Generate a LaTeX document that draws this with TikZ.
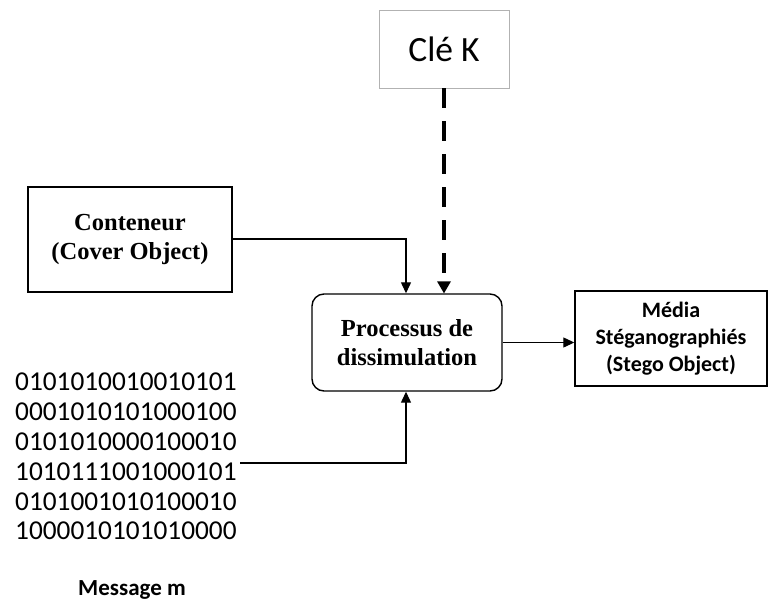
\documentclass[tikz,border=0pt]{standalone}
\usepackage{fontspec}
\setmainfont{Carlito}
\newfontfamily\timesfam{Liberation Serif}
\usetikzlibrary{arrows.meta}
\begin{document}
\begin{tikzpicture}[x=1pt,y=-1pt,
  box/.style={draw, line width=1.4pt, inner sep=0pt, align=center},
  keybox/.style={draw=black!30, line width=0.8pt, inner sep=0pt, align=center},
  link/.style={line width=1.2pt, -{Triangle[length=11pt,width=10pt]}},
  keylink/.style={line width=4pt, dash pattern=on 20pt off 13pt, -{Triangle[length=12pt,width=14pt,line width=0pt]}},
  serifbold/.style={font=\timesfam\bfseries\fontsize{24.5}{29}\selectfont},
  sansbold/.style={font=\bfseries\fontsize{22}{27}\selectfont}]
\useasboundingbox (0,0) rectangle (769,606);

% boxes
\node[keybox, minimum width=130pt, minimum height=78pt, font=\fontsize{35.5}{40}\selectfont]
  (key) at (444,49) {Clé K};
\node[box, serifbold, minimum width=204pt, minimum height=105pt]
  (cover) at (130,239.5) {Conteneur\\(Cover Object)};
\node[box, serifbold, rounded corners=12pt, minimum width=190pt, minimum height=97pt]
  (proc) at (407,342.5) {Processus de\\dissimulation};
\node[box, sansbold, minimum width=192pt, minimum height=95pt]
  (stego) at (671,338.5) {Média\\Stéganographiés\\(Stego Object)};

% secret message bits
\node[anchor=north west, align=left, inner sep=0pt,
  font=\fontsize{27.3}{29.8}\selectfont] (bits) at (15,373)
  {0101010010010101\\0001010101000100\\0101010000100010\\1010111001000101\\0101001010100010\\1000010101010000};
\node[font=\bfseries\fontsize{23}{27}\selectfont] (msg) at (132,590) {Message m};
\coordinate (bitsout) at (240,463);

% connectors
\draw[link] (cover.east |- 0,239) -| (proc.north -| 406,0);
\draw[keylink] (key.south -| 444,0) -- (proc.north -| 444,0);
\draw[link] (bitsout) -| (proc.south -| 406,0);
\draw[link] (proc.east) -- (stego.west |- proc.east);
\end{tikzpicture}
\end{document}
